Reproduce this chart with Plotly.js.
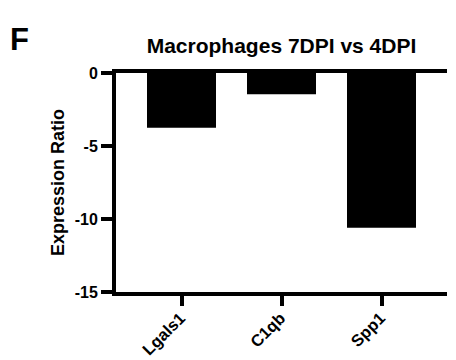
<!DOCTYPE html>
<html>
<head>
<meta charset="utf-8">
<script src="https://cdn.plot.ly/plotly-3.0.1.min.js"></script>
<style>html,body{margin:0;padding:0;background:#fff;}#chart{width:456px;height:360px;}</style>
</head>
<body>
<div id="chart"></div>
<script>
const categories = ["Lgals1", "C1qb", "Spp1"];
const values = [-3.75, -1.45, -10.6];
const yTickVals = [0, -5, -10, -15];
const yTickText = ["0", "-5", "-10", "-15"];

const FONT = "Liberation Sans, Arial, Helvetica, sans-serif";

const data = [{
  type: "bar",
  x: categories,
  y: values,
  marker: {color: "#000000", line: {width: 0}},
  hoverinfo: "none"
}];

const layout = {
  width: 456,
  height: 360,
  margin: {l: 116, r: 9, t: 73, b: 68},
  paper_bgcolor: "#ffffff",
  plot_bgcolor: "#ffffff",
  showlegend: false,
  bargap: 0.31,
  font: {family: FONT, color: "#000000", weight: "bold"},
  title: {
    text: "Macrophages 7DPI vs 4DPI",
    font: {family: FONT, size: 21, color: "#000000", weight: "bold"},
    x: 0.5, xref: "paper", xanchor: "center",
    y: 0.874, yref: "container", yanchor: "middle"
  },
  xaxis: {
    type: "category",
    range: [-0.655, 2.655],
    showline: true, mirror: true, linewidth: 4, linecolor: "#000",
    ticks: "outside", ticklen: 10, tickwidth: 4, tickcolor: "#000",
    tickangle: -45,
    ticklabelstandoff: -4,
    ticklabelshift: -1,
    tickfont: {family: FONT, size: 16.5, color: "#000", weight: "bold"},
    showgrid: false, zeroline: false, fixedrange: true
  },
  yaxis: {
    range: [-15, 0],
    tickvals: yTickVals,
    ticktext: yTickText,
    showline: true, linewidth: 4, linecolor: "#000",
    ticks: "outside", ticklen: 11, tickwidth: 4, tickcolor: "#000",
    tickfont: {family: FONT, size: 16, color: "#000", weight: "bold"},
    showgrid: false, zeroline: false, fixedrange: true,
    title: {text: "Expression Ratio", standoff: 6,
      font: {family: FONT, size: 18, color: "#000", weight: "bold"}}
  },
  annotations: [{
    text: "F", xref: "paper", yref: "paper",
    x: -0.325, y: 1.151, xanchor: "left", yanchor: "middle",
    showarrow: false,
    font: {family: FONT, size: 31, color: "#000", weight: "bold"}
  }]
};

Plotly.newPlot("chart", data, layout, {displayModeBar: false, staticPlot: true});
</script>
</body>
</html>
